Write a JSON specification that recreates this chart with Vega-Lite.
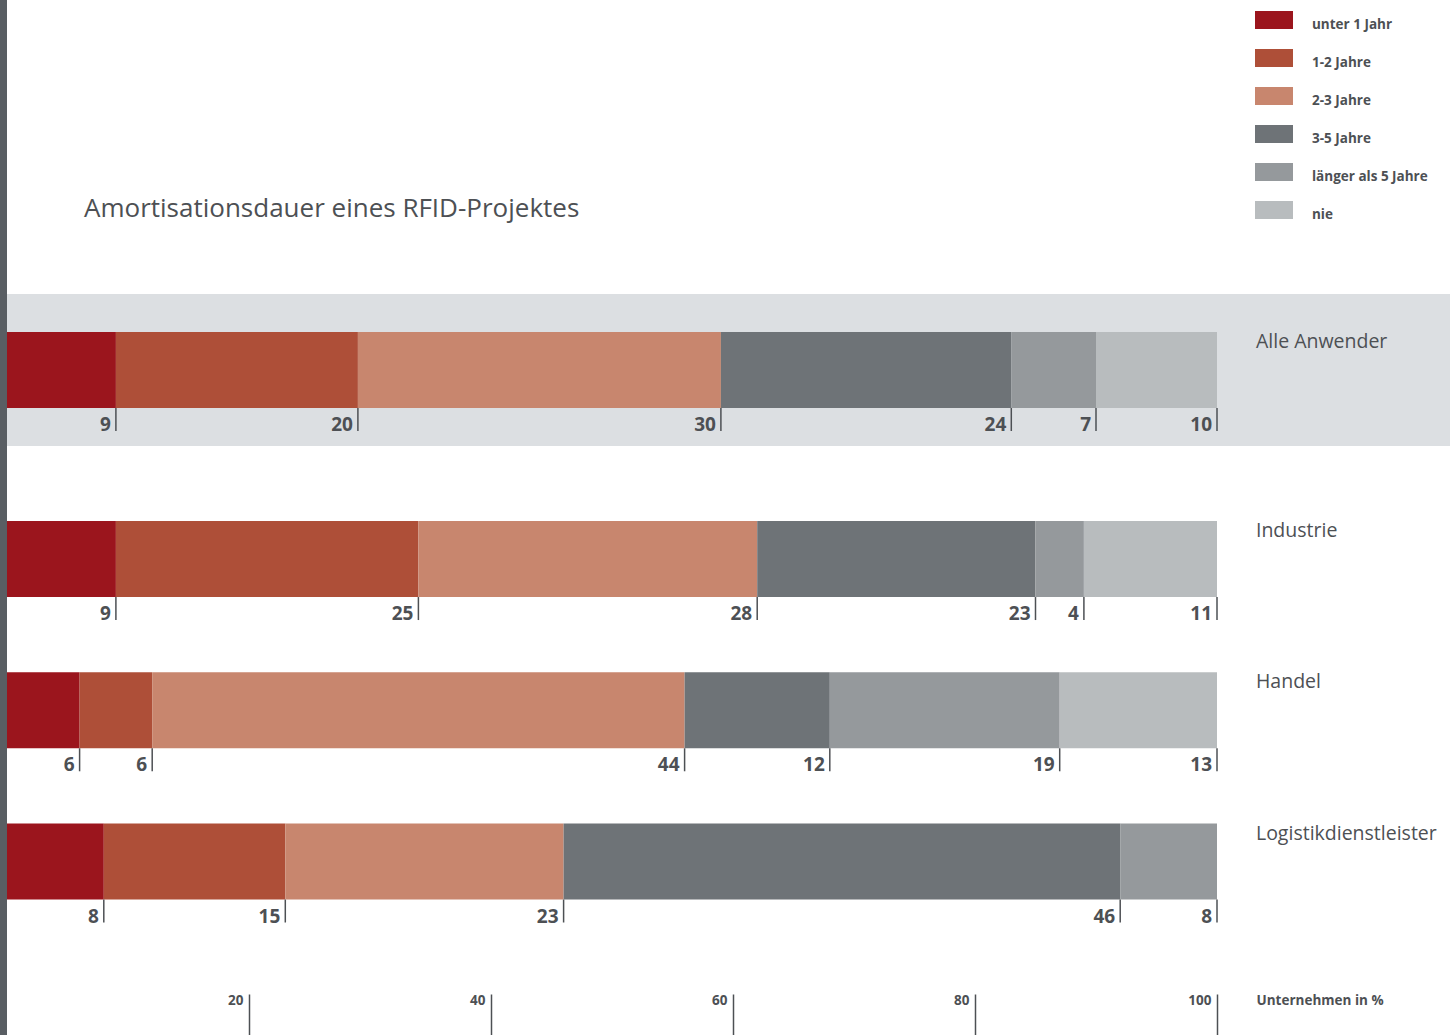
{
  "$schema": "https://vega.github.io/schema/vega-lite/v6.json",
  "width": 1450,
  "height": 1035,
  "padding": 0,
  "autosize": {"type": "pad"},
  "background": "#ffffff",
  "title": {
    "text": "Amortisationsdauer eines RFID-Projektes",
    "anchor": "start",
    "frame": "group",
    "orient": "top",
    "offset": -243,
    "dx": 84,
    "baseline": "alphabetic",
    "font": "Open Sans",
    "fontSize": 26,
    "fontWeight": "normal",
    "color": "#4d5054"
  },
  "datasets": {
    "werte": [
      {"gruppe": "Alle Anwender", "kategorie": "unter 1 Jahr", "rang": 1, "anteil": 9},
      {"gruppe": "Alle Anwender", "kategorie": "1-2 Jahre", "rang": 2, "anteil": 20},
      {"gruppe": "Alle Anwender", "kategorie": "2-3 Jahre", "rang": 3, "anteil": 30},
      {"gruppe": "Alle Anwender", "kategorie": "3-5 Jahre", "rang": 4, "anteil": 24},
      {"gruppe": "Alle Anwender", "kategorie": "länger als 5 Jahre", "rang": 5, "anteil": 7},
      {"gruppe": "Alle Anwender", "kategorie": "nie", "rang": 6, "anteil": 10},
      {"gruppe": "Industrie", "kategorie": "unter 1 Jahr", "rang": 1, "anteil": 9},
      {"gruppe": "Industrie", "kategorie": "1-2 Jahre", "rang": 2, "anteil": 25},
      {"gruppe": "Industrie", "kategorie": "2-3 Jahre", "rang": 3, "anteil": 28},
      {"gruppe": "Industrie", "kategorie": "3-5 Jahre", "rang": 4, "anteil": 23},
      {"gruppe": "Industrie", "kategorie": "länger als 5 Jahre", "rang": 5, "anteil": 4},
      {"gruppe": "Industrie", "kategorie": "nie", "rang": 6, "anteil": 11},
      {"gruppe": "Handel", "kategorie": "unter 1 Jahr", "rang": 1, "anteil": 6},
      {"gruppe": "Handel", "kategorie": "1-2 Jahre", "rang": 2, "anteil": 6},
      {"gruppe": "Handel", "kategorie": "2-3 Jahre", "rang": 3, "anteil": 44},
      {"gruppe": "Handel", "kategorie": "3-5 Jahre", "rang": 4, "anteil": 12},
      {"gruppe": "Handel", "kategorie": "länger als 5 Jahre", "rang": 5, "anteil": 19},
      {"gruppe": "Handel", "kategorie": "nie", "rang": 6, "anteil": 13},
      {"gruppe": "Logistikdienstleister", "kategorie": "unter 1 Jahr", "rang": 1, "anteil": 8},
      {"gruppe": "Logistikdienstleister", "kategorie": "1-2 Jahre", "rang": 2, "anteil": 15},
      {"gruppe": "Logistikdienstleister", "kategorie": "2-3 Jahre", "rang": 3, "anteil": 23},
      {"gruppe": "Logistikdienstleister", "kategorie": "3-5 Jahre", "rang": 4, "anteil": 46},
      {"gruppe": "Logistikdienstleister", "kategorie": "länger als 5 Jahre", "rang": 5, "anteil": 8}
    ],
    "gruppen": [
      {"gruppe": "Alle Anwender"},
      {"gruppe": "Industrie"},
      {"gruppe": "Handel"},
      {"gruppe": "Logistikdienstleister"}
    ]
  },
  "layer": [
    {
      "data": {"values": [{"rand": "links"}]},
      "mark": {"type": "rect", "color": "#595e63"},
      "encoding": {
        "x": {"datum": -0.5785, "type": "quantitative"},
        "x2": {"datum": 0}
      }
    },
    {
      "data": {"values": [{"gruppe": "Alle Anwender"}]},
      "mark": {"type": "rect", "color": "#dcdfe2", "height": 152},
      "encoding": {
        "x": {"datum": 0, "type": "quantitative"},
        "x2": {"datum": 119.2562},
        "y": {"field": "gruppe", "type": "nominal", "axis": null}
      }
    },
    {
      "data": {"name": "werte"},
      "transform": [{"stack": "anteil", "groupby": ["gruppe"], "sort": [{"field": "rang"}], "as": ["x0", "x1"]}],
      "mark": {"type": "bar", "height": 76, "strokeWidth": 0},
      "encoding": {
        "x": {
          "field": "x0",
          "type": "quantitative",
          "scale": {"domain": [-0.5785, 119.2562], "nice": false, "zero": false},
          "axis": {
            "orient": "bottom",
            "offset": -41,
            "values": [20, 40, 60, 80, 100],
            "domain": false,
            "grid": false,
            "ticks": true,
            "tickSize": 41,
            "tickWidth": 1.5,
            "tickColor": "#4d5054",
            "labelAlign": "right",
            "labelBaseline": "alphabetic",
            "labelPadding": -31,
            "labelOffset": -6,
            "labelFont": "Open Sans",
            "labelFontSize": 13.5,
            "labelFontWeight": "bold",
            "labelColor": "#4d5054",
            "labelBound": false,
            "labelFlush": false,
            "labelOverlap": false,
            "title": "Unternehmen in %",
            "titleX": 1256,
            "titleY": 10,
            "titleAlign": "left",
            "titleAnchor": "start",
            "titleBaseline": "alphabetic",
            "titleFont": "Open Sans",
            "titleFontSize": 13.5,
            "titleFontWeight": "bold",
            "titleColor": "#4d5054"
          }
        },
        "x2": {"field": "x1"},
        "y": {
          "field": "gruppe",
          "type": "nominal",
          "scale": {
            "type": "point",
            "domain": ["Alle Anwender", "_1", "_2", "_3", "_4", "Industrie", "_5", "_6", "_7", "Handel", "_8", "_9", "_10", "Logistikdienstleister"],
            "range": [370, 861.5],
            "padding": 0
          },
          "axis": null
        },
        "color": {
          "field": "kategorie",
          "type": "nominal",
          "scale": {
            "domain": ["unter 1 Jahr", "1-2 Jahre", "2-3 Jahre", "3-5 Jahre", "länger als 5 Jahre", "nie"],
            "range": ["#9b151d", "#ae4f38", "#c8866e", "#6e7377", "#95999c", "#b8bcbe"]
          },
          "legend": {
            "orient": "none",
            "legendX": 1255,
            "legendY": 6,
            "title": null,
            "padding": 0,
            "symbolType": "M-1,-0.737H1V0.211H-1Z",
            "symbolSize": 1444,
            "symbolStrokeWidth": 0,
            "symbolOpacity": 1,
            "rowPadding": 12,
            "labelOffset": 19,
            "labelFont": "Open Sans",
            "labelFontSize": 13.5,
            "labelFontWeight": "bold",
            "labelColor": "#4d5054",
            "labelLimit": 300
          }
        }
      }
    },
    {
      "data": {"name": "werte"},
      "transform": [{"stack": "anteil", "groupby": ["gruppe"], "sort": [{"field": "rang"}], "as": ["x0", "x1"]}],
      "mark": {"type": "rule", "color": "#4d5054", "strokeWidth": 1.5, "yOffset": 38, "y2Offset": 61},
      "encoding": {
        "x": {"field": "x1", "type": "quantitative"},
        "y": {"field": "gruppe", "type": "nominal", "axis": null},
        "y2": {"field": "gruppe"}
      }
    },
    {
      "data": {"name": "werte"},
      "transform": [{"stack": "anteil", "groupby": ["gruppe"], "sort": [{"field": "rang"}], "as": ["x0", "x1"]}],
      "mark": {"type": "text", "align": "right", "baseline": "alphabetic", "dx": -5, "dy": 61, "font": "Open Sans", "fontSize": 19, "fontWeight": "bold", "color": "#4d5054"},
      "encoding": {
        "x": {"field": "x1", "type": "quantitative"},
        "y": {"field": "gruppe", "type": "nominal", "axis": null},
        "text": {"field": "anteil", "type": "quantitative"}
      }
    },
    {
      "data": {"name": "gruppen"},
      "mark": {"type": "text", "align": "left", "baseline": "alphabetic", "dy": -22, "font": "Open Sans", "fontSize": 19.5, "color": "#4d5054"},
      "encoding": {
        "x": {"datum": 103.22, "type": "quantitative"},
        "y": {"field": "gruppe", "type": "nominal", "axis": null},
        "text": {"field": "gruppe", "type": "nominal"}
      }
    }
  ],
  "resolve": {"scale": {"x": "shared", "y": "shared"}},
  "config": {
    "view": {"stroke": null}
  }
}
